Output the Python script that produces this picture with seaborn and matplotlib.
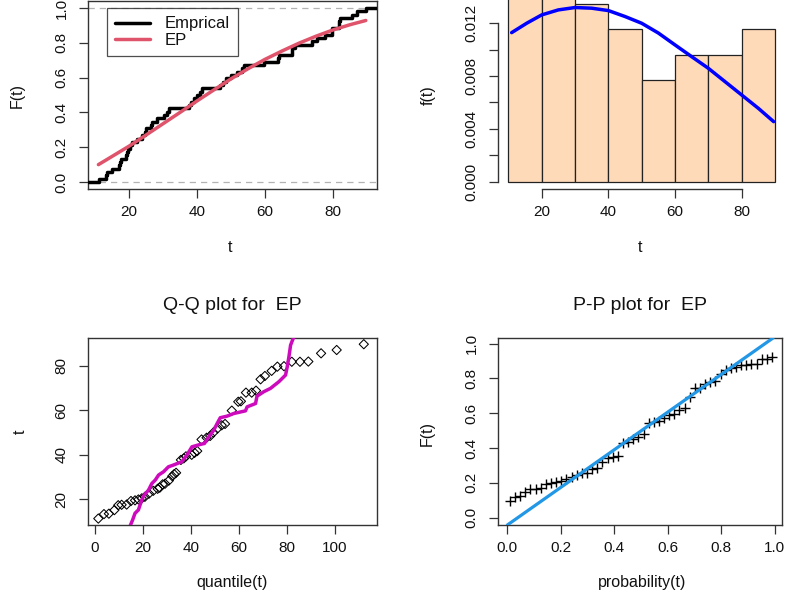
import numpy as np
import pandas as pd
import matplotlib
matplotlib.use("Agg")
import matplotlib.pyplot as plt
import seaborn as sns

# ---------------- data ----------------
t_data = [11.2, 13.2, 13.4, 15.0, 17.2, 17.4, 17.5, 19.1, 19.4, 19.8,
          20.3, 21.0, 22.4, 23.7, 24.6, 25.1, 26.6, 26.9, 28.3,
          30.3, 31.2, 31.8, 37.6, 38.3, 39.2, 39.9,
          40.8, 41.6, 46.8, 47.6, 48.4, 49.9,
          51.8, 53.2, 53.8, 59.8,
          63.8, 64.0, 67.9, 67.9, 68.8,
          73.9, 75.4, 77.7, 79.6, 79.8,
          81.8, 81.8, 81.9, 85.6, 87.1, 89.7]

# fitted EP cdf (red curve)
cdf_t = [11, 15, 20, 25, 30, 35, 40, 45, 50, 55, 60, 65, 70, 75, 80, 85, 89.6]
cdf_F = [0.100, 0.147, 0.206, 0.270, 0.335, 0.400, 0.466, 0.530, 0.593,
         0.651, 0.705, 0.753, 0.798, 0.838, 0.874, 0.904, 0.928]

# fitted EP pdf (blue curve)
pdf_t = [11, 15.5, 20, 25, 30, 35, 40, 45, 50, 55, 60, 65, 70, 75, 80, 85, 89.6]
pdf_f = [0.01129, 0.0120, 0.01263, 0.01301, 0.01319, 0.01314, 0.01296, 0.01251,
         0.0120, 0.01126, 0.01036, 0.00947, 0.00859, 0.00758, 0.00657,
         0.00556, 0.00455]

hist_breaks = [10, 20, 30, 40, 50, 60, 70, 80, 90]

# Q-Q plot: theoretical quantiles for the sorted sample
qq_quantile = [1.4, 3.75, 5.8, 8.1, 9.7, 11.1, 13.2, 15.0, 16.7, 18.1,
               19.5, 20.8, 22.5, 24.3, 26.1, 27.0, 28.2, 29.2, 30.8, 32.2,
               33.0, 33.8, 35.8, 37.0, 37.9, 40.3, 41.5, 42.6, 44.4, 46.5,
               48.0, 49.3, 51.1, 52.8, 54.2, 57.0, 59.7, 60.8, 62.9, 65.3,
               67.1, 69.0, 70.8, 73.6, 76.0, 78.75, 82.0, 85.4, 88.9, 94.2,
               100.7, 112.0]
# magenta reference line of the Q-Q plot
qq_line_q = [14.3, 15.7, 16.7, 18.1, 19.5, 20.5, 22.3, 23.7, 25.1, 26.5, 28.6,
             30.6, 32.7, 36.2, 38.3, 40.4, 43.9, 45.6, 47.4, 49.5, 50.9, 52.2,
             55.0, 57.8, 62.7, 63.4, 66.9, 67.5, 70.3, 73.1, 76.6, 79.4, 80.1,
             80.8, 81.5, 83.2]
qq_line_t = [7.0, 10.6, 13.6, 15.1, 19.6, 21.8, 24.0, 27.0, 28.5, 30.8, 32.3,
             34.5, 35.3, 36.8, 39.8, 43.5, 44.6, 45.0, 48.0, 51.0, 54.0, 56.6,
             57.3, 58.5, 59.7, 61.5, 63.0, 66.3, 68.3, 69.8, 72.8, 75.8, 79.5,
             84.0, 89.3, 94.0]

# P-P plot: fitted F at the sorted sample
pp_F = [0.098, 0.117, 0.124, 0.149, 0.165, 0.165, 0.172, 0.193, 0.200, 0.206,
        0.212, 0.220, 0.232, 0.245, 0.255, 0.257, 0.278, 0.283, 0.321, 0.340,
        0.350, 0.352, 0.427, 0.436, 0.451, 0.464, 0.478, 0.541, 0.547, 0.554,
        0.573, 0.589, 0.598, 0.617, 0.629, 0.694, 0.742, 0.745, 0.770, 0.780,
        0.784, 0.828, 0.847, 0.857, 0.866, 0.876, 0.879, 0.881, 0.885, 0.910,
        0.913, 0.922]
pp_line_intercept = -0.042
pp_line_slope = 1.08

# ---------------- style ----------------
sns.set_theme(style="white")
plt.rcParams['font.family'] = ['Liberation Sans', 'DejaVu Sans']
plt.rcParams['axes.linewidth'] = 1.0
plt.rcParams['axes.edgecolor'] = '#333333'

TICK_FS = 11
LAB_FS = 11.5
TITLE_FS = 14
TXT = '#111111'

W, H = 786, 597
fig = plt.figure(figsize=(W / 100, H / 100), dpi=100)
fig.patch.set_facecolor('white')


def add_ax(x0, y0, x1, y1):
    return fig.add_axes([x0 / W, 1 - y1 / H, (x1 - x0) / W, (y1 - y0) / H])


def style_ticks(ax):
    ax.tick_params(axis='both', direction='out', length=6.5, width=0.9,
                   color='#333333', labelcolor=TXT, labelsize=TICK_FS,
                   bottom=True, left=True)
    ax.tick_params(axis='x', pad=5)
    ax.tick_params(axis='y', pad=7.5)
    for lab in ax.get_yticklabels():
        lab.set_rotation(90)
        lab.set_va('center')
        lab.set_ha('right')
    ax.set_xlabel('')
    ax.set_ylabel('')


def ftext(x, y, s, size=LAB_FS, rot=0):
    fig.text(x / W, 1 - y / H, s, ha='center', va='center', rotation=rot,
             fontsize=size, color=TXT)


ts = np.sort(np.asarray(t_data))
n = len(ts)

# ---------------- panel 1: empirical vs fitted cdf ----------------
ax1 = add_ax(88, 1, 377, 189)
x1lim = (7.94, 92.9)
ax1.set_xlim(*x1lim)
ax1.set_ylim(-0.04, 1.04)
for yv in (0, 1):
    ax1.axhline(yv, color='#b3b3b3', lw=0.9, ls=(0, (5, 4)), zorder=1)
step_x = np.r_[x1lim[0], ts, x1lim[1]]
step_y = np.r_[0.0, np.arange(1, n + 1) / n, 1.0]
sns.lineplot(x=step_x, y=step_y, drawstyle='steps-post', color='black', lw=2.5,
             estimator=None, sort=False, ax=ax1, label='Emprical', zorder=3)
sns.lineplot(x=cdf_t, y=cdf_F, color='#DF536B', lw=2.5, estimator=None,
             sort=False, ax=ax1, label='EP', zorder=4)
ax1.set_xticks([20, 40, 60, 80])
ax1.set_yticks([0, 0.2, 0.4, 0.6, 0.8, 1.0])
ax1.set_yticklabels(['0.0', '0.2', '0.4', '0.6', '0.8', '1.0'])
style_ticks(ax1)
leg = ax1.legend(loc='upper left', bbox_to_anchor=((107 - 88) / 289, (189 - 8) / 188),
                 fontsize=12, frameon=True, fancybox=False, borderpad=0.5,
                 handlelength=2.1, handletextpad=0.85, labelspacing=0.1,
                 borderaxespad=0)
leg.get_frame().set_edgecolor('#222222')
leg.get_frame().set_linewidth(0.9)
for txt in leg.get_texts():
    txt.set_color(TXT)
ftext(17, 96, 'F(t)', rot=90)
ftext(230, 247, 't')

# ---------------- panel 2: histogram with fitted pdf ----------------
ax2 = add_ax(498, 0, 786, 189)
sns.histplot(x=t_data, bins=hist_breaks, stat='density', color='#FFDAB9',
             edgecolor='#222222', linewidth=0.9, alpha=1, ax=ax2, zorder=2)
sns.lineplot(x=pdf_t, y=pdf_f, color='blue', lw=2.5, estimator=None,
             sort=False, ax=ax2, zorder=3)
ax2.set_xlim(6.9, 93.3)
ax2.set_ylim(-0.00055, 0.01376)
ax2.set_xticks([20, 40, 60, 80])
ax2.set_yticks([0, 0.002, 0.004, 0.006, 0.008, 0.010, 0.012])
ax2.set_yticklabels(['0.000', '', '0.004', '', '0.008', '', '0.012'])
for side in ('top', 'right'):
    ax2.spines[side].set_visible(False)
ax2.spines['left'].set_bounds(0, 0.012)
ax2.spines['bottom'].set_bounds(20, 80)
style_ticks(ax2)
ftext(428, 95, 'f(t)', rot=90)
ftext(640, 247, 't')

# ---------------- panel 3: Q-Q plot ----------------
ax3 = add_ax(88, 338, 377, 525)
sns.scatterplot(x=qq_quantile, y=ts, marker='D', s=22, facecolors='none',
                edgecolors='black', linewidths=0.75, ax=ax3, zorder=3)
sns.lineplot(x=qq_line_q, y=qq_line_t, color='#CD0BBC', lw=2.5, estimator=None,
             sort=False, ax=ax3, zorder=4)
ax3.set_xlim(-2.9, 117.5)
ax3.set_ylim(8.3, 92.5)
ax3.set_xticks([0, 20, 40, 60, 80, 100])
ax3.set_yticks([20, 40, 60, 80])
style_ticks(ax3)
ftext(232, 305, 'Q-Q plot for  EP', size=TITLE_FS)
ftext(20, 432, 't', rot=90)
ftext(232, 582, 'quantile(t)')

# ---------------- panel 4: P-P plot ----------------
ax4 = add_ax(498, 338, 782, 525)
pp_prob = (np.arange(1, n + 1) - 0.5) / n
sns.scatterplot(x=pp_prob, y=pp_F, marker='+', s=55, color='black',
                linewidth=1.0, ax=ax4, zorder=3)
ax4.axline((0, pp_line_intercept), slope=pp_line_slope, color='#2297E6',
           lw=2.3, zorder=4)
ax4.set_xlim(-0.035, 1.028)
ax4.set_ylim(-0.042, 1.032)
ax4.set_xticks([0, 0.2, 0.4, 0.6, 0.8, 1.0])
ax4.set_xticklabels(['0.0', '0.2', '0.4', '0.6', '0.8', '1.0'])
ax4.set_yticks([0, 0.2, 0.4, 0.6, 0.8, 1.0])
ax4.set_yticklabels(['0.0', '0.2', '0.4', '0.6', '0.8', '1.0'])
style_ticks(ax4)
ftext(640, 305, 'P-P plot for  EP', size=TITLE_FS)
ftext(427, 433, 'F(t)', rot=90)
ftext(642, 582, 'probability(t)')

fig.savefig('out.png', dpi=100, facecolor='white')
